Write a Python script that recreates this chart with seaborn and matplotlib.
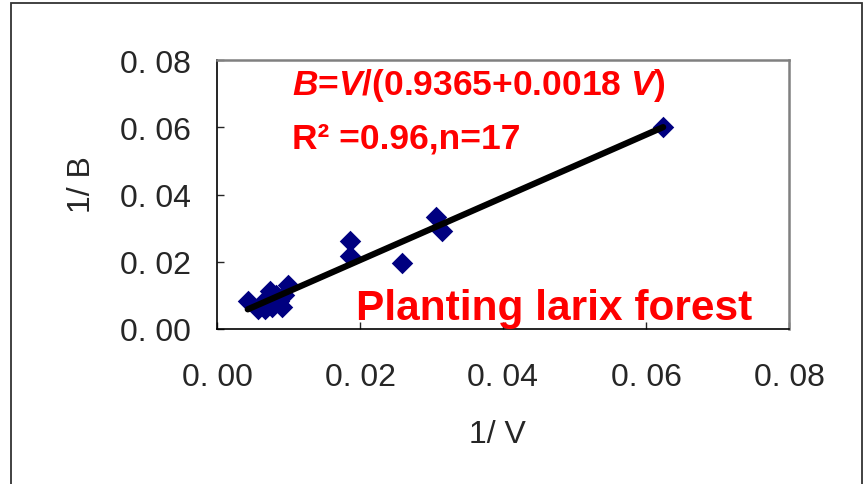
import matplotlib
matplotlib.use("Agg")
import matplotlib.pyplot as plt
import seaborn as sns
import pandas as pd
from matplotlib.patches import Rectangle

# Data (1/V, 1/B)
inv_v = [0.0043, 0.0057, 0.0067, 0.0077, 0.0074, 0.0087, 0.0091, 0.0094, 0.0099,
         0.0083, 0.0066, 0.0186, 0.0186, 0.0259, 0.0306, 0.0315, 0.0624]
inv_b = [0.0083, 0.0059, 0.0059, 0.0065, 0.0113, 0.0083, 0.0065, 0.0101, 0.0131,
         0.0101, 0.0083, 0.0262, 0.0217, 0.0196, 0.0333, 0.0291, 0.0601]
x_ticks = [0.00, 0.02, 0.04, 0.06, 0.08]
x_tick_labels = ["0. 00", "0. 02", "0. 04", "0. 06", "0. 08"]
y_ticks = [0.00, 0.02, 0.04, 0.06, 0.08]
y_tick_labels = ["0. 00", "0. 02", "0. 04", "0. 06", "0. 08"]

df = pd.DataFrame({"inv_v": inv_v, "inv_b": inv_b})

sns.set_style("white")
plt.rcParams["font.family"] = ["Liberation Sans", "DejaVu Sans"]
plt.rcParams["mathtext.fontset"] = "custom"
plt.rcParams["mathtext.it"] = "Liberation Sans:italic:bold"
plt.rcParams["mathtext.rm"] = "Liberation Sans:bold"
plt.rcParams["mathtext.bf"] = "Liberation Sans:bold"

fig = plt.figure(figsize=(8.67, 4.85), dpi=100)
ax = fig.add_axes([0.2503, 0.3196, 0.6597, 0.5546])

sns.scatterplot(data=df, x="inv_v", y="inv_b", marker="D", s=120,
                color="#000080", edgecolor="#000080", linewidth=0, ax=ax, zorder=2)
sns.regplot(data=df, x="inv_v", y="inv_b", scatter=False, ci=None, ax=ax,
            line_kws=dict(color="black", lw=4.5, zorder=3, solid_capstyle="round"))

ax.set_xlim(0, 0.08)
ax.set_ylim(0, 0.08)
ax.set_xticks(x_ticks, x_tick_labels, fontsize=23)
ax.set_yticks(y_ticks, y_tick_labels, fontsize=23)
ax.tick_params(axis="x", direction="in", length=5, width=1, pad=24, bottom=True)
ax.tick_params(axis="y", direction="in", length=5, width=1, pad=19, left=True)
ax.set_xlabel("1/ V", fontsize=23)
ax.set_ylabel("1/ B", fontsize=23)
ax.xaxis.set_label_coords(0.49, -0.335)
ax.yaxis.set_label_coords(-0.21, 0.54)

for side in ["left", "bottom"]:
    ax.spines[side].set_color("black")
    ax.spines[side].set_linewidth(1.2)
for side in ["top", "right"]:
    ax.spines[side].set_color("#808080")
    ax.spines[side].set_linewidth(1.8)

ax.text(0.0105, 0.0699, r"$B$=$V$/(0.9365+0.0018 $V$)", color="red",
        fontsize=25.5, fontweight="bold", ha="left", va="baseline")
ax.text(0.0105, 0.0541, "R² =0.96,n=17", color="red",
        fontsize=25.5, fontweight="bold", ha="left", va="baseline")
ax.text(0.0194, 0.0030, "Planting larix forest", color="red",
        fontsize=30.5, fontweight="bold", ha="left", va="baseline")

fig.patches.append(Rectangle((11 / 867, -0.1), (862 - 11) / 867, 1.1 - 3.5 / 485,
                             transform=fig.transFigure, fill=False,
                             edgecolor="#333333", linewidth=1.3))

fig.savefig("out.png", dpi=100)
